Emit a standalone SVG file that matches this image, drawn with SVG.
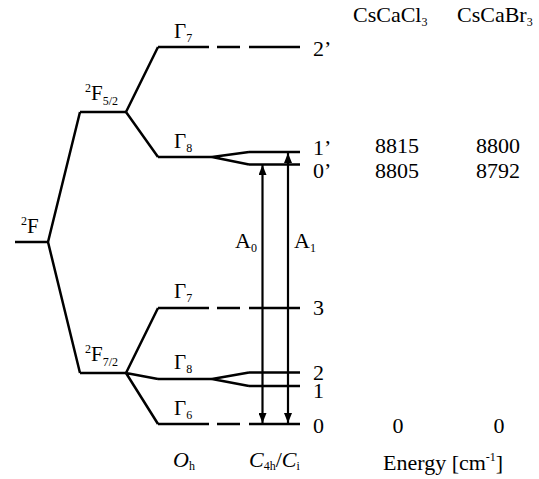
<svg xmlns="http://www.w3.org/2000/svg" width="539" height="479" viewBox="0 0 539 479" font-family="'Liberation Serif','Times New Roman',serif">
<style>
.l{stroke:#000;stroke-width:2.5;fill:none;stroke-linecap:butt}
.a{stroke:#000;stroke-width:2.2;fill:none}
text,tspan{font-family:"Liberation Serif","Times New Roman",serif;fill:#000}
.t{font-size:22px}
.g{font-size:21px}
.s{font-size:12px}
.i{font-style:italic}
</style>
<defs>
<marker id="ah" viewBox="0 0 10 8" refX="10" refY="4" markerWidth="10" markerHeight="8" markerUnits="userSpaceOnUse" orient="auto-start-reverse">
<path d="M0,0 L10,4 L0,8 Z" fill="#000"/>
</marker>
</defs>
<rect width="539" height="479" fill="#fff"/>
<g id="headers">
<text class="t" x="353" y="22">CsCaCl<tspan class="s" dy="4">3</tspan></text>
<text class="t" x="457" y="22">CsCaBr<tspan class="s" dy="4">3</tspan></text>
</g>
<g id="F">
<path class="l" d="M15,242 H48"/>
<text class="g" x="21" y="233"><tspan class="s" dy="-8">2</tspan><tspan dy="8">F</tspan></text>
</g>
<g id="F52">
<path class="l" d="M80,112 H126"/>
<text class="g" x="85" y="100"><tspan class="s" dy="-8">2</tspan><tspan dy="8">F</tspan><tspan class="s" dy="5">5/2</tspan></text>
</g>
<g id="F72">
<path class="l" d="M80,373 H126"/>
<text class="g" x="85" y="361"><tspan class="s" dy="-8">2</tspan><tspan dy="8">F</tspan><tspan class="s" dy="5">7/2</tspan></text>
</g>
<g id="G7u">
<path class="l" d="M158,47 H209 M217,47 H240 M249,47 H300"/>
<text class="g" x="174" y="38">Γ<tspan class="s" dy="4">7</tspan></text>
<text class="t" x="313" y="56">2’</text>
</g>
<g id="G8u">
<path class="l" d="M158,157 H212"/>
<text class="g" x="174" y="148">Γ<tspan class="s" dy="4">8</tspan></text>
</g>
<g id="L1p">
<path class="l" d="M249,152 H300"/>
<text class="t" x="313" y="155">1’</text>
<text class="t" x="397" y="153" text-anchor="middle">8815</text>
<text class="t" x="498" y="153" text-anchor="middle">8800</text>
</g>
<g id="L0p">
<path class="l" d="M249,164.5 H300"/>
<text class="t" x="313" y="178">0’</text>
<text class="t" x="397" y="178" text-anchor="middle">8805</text>
<text class="t" x="498" y="178" text-anchor="middle">8792</text>
</g>
<g id="G7l">
<path class="l" d="M158,308 H209 M217,308 H240 M249,308 H300"/>
<text class="g" x="174" y="298">Γ<tspan class="s" dy="4">7</tspan></text>
<text class="t" x="313" y="315">3</text>
</g>
<g id="G8l">
<path class="l" d="M158,379 H212"/>
<text class="g" x="174" y="369">Γ<tspan class="s" dy="4">8</tspan></text>
</g>
<g id="L2">
<path class="l" d="M249,372.5 H300"/>
<text class="t" x="313" y="380">2</text>
</g>
<g id="L1">
<path class="l" d="M249,386 H300"/>
<text class="t" x="313" y="398">1</text>
</g>
<g id="G6">
<path class="l" d="M158,424 H209 M217,424 H240 M249,424 H300"/>
<text class="g" x="174" y="415">Γ<tspan class="s" dy="4">6</tspan></text>
<text class="t" x="313" y="433">0</text>
<text class="t" x="398" y="433" text-anchor="middle">0</text>
<text class="t" x="499" y="433" text-anchor="middle">0</text>
</g>
<g id="connectors">
<path class="l" d="M48,242 L80,112 M48,242 L80,373"/>
<path class="l" d="M126,112 L158,47 M126,112 L158,157"/>
<path class="l" d="M126,373 L158,308 M126,373 L158,379 M126,373 L158,424"/>
<path class="l" d="M212,157 L249,152 M212,157 L249,164.5"/>
<path class="l" d="M212,379 L249,372.5 M212,379 L249,386"/>
<path class="a" d="M262.5,165 V423" marker-start="url(#ah)" marker-end="url(#ah)"/>
<path class="a" d="M288,153 V423" marker-start="url(#ah)" marker-end="url(#ah)"/>
</g>
<g id="arrow-labels">
<text class="t" x="235" y="248">A<tspan class="s" dy="4">0</tspan></text>
<text class="t" x="294" y="248">A<tspan class="s" dy="4">1</tspan></text>
</g>
<g id="axis-labels">
<text class="t i" x="173" y="467">O<tspan class="s" font-style="normal" dy="3">h</tspan></text>
<text class="t" x="249" y="467"><tspan class="i">C</tspan><tspan class="s" dy="3">4h</tspan><tspan dy="-3">/</tspan><tspan class="i">C</tspan><tspan class="s" dy="3">i</tspan></text>
<text class="t" x="383" y="470">Energy [cm<tspan class="s" dy="-9">-1</tspan><tspan dy="9">]</tspan></text>
</g>
</svg>
